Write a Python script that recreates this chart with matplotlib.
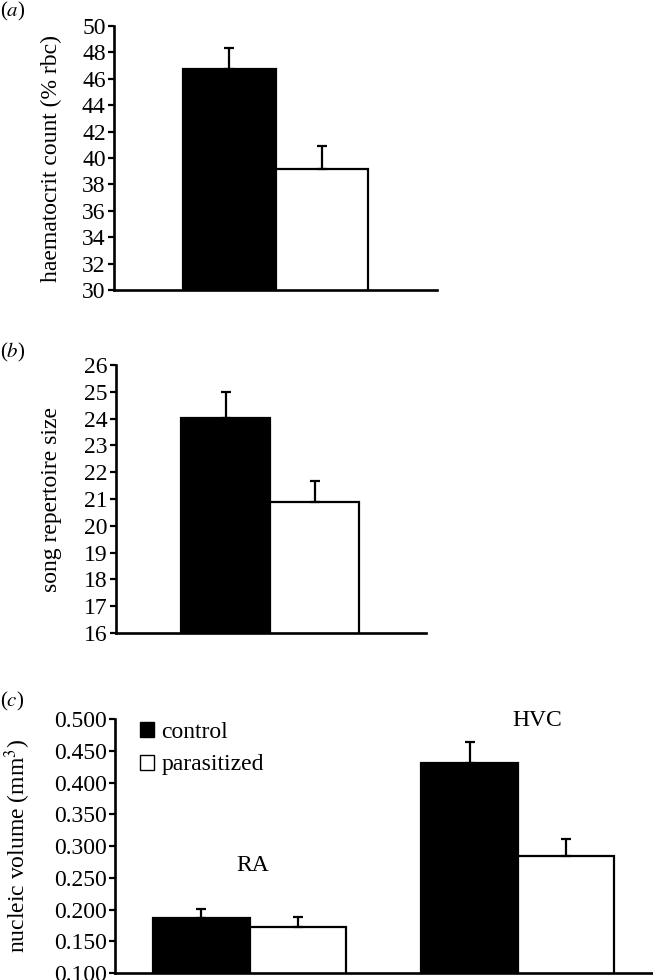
import matplotlib
matplotlib.use("Agg")
import matplotlib.pyplot as plt
from matplotlib.patches import Patch

plt.rcParams['font.family'] = ['Liberation Serif', 'DejaVu Serif']
plt.rcParams['mathtext.fontset'] = 'stix'

# Data
groups_a = ["control", "parasitized"]
haematocrit = [46.74, 39.17]
haematocrit_err = [1.59, 1.73]
a_ticks = [30, 32, 34, 36, 38, 40, 42, 44, 46, 48, 50]

repertoire = [24.02, 20.89]
repertoire_err = [0.97, 0.78]
b_ticks = [16, 17, 18, 19, 20, 21, 22, 23, 24, 25, 26]

regions = ["RA", "HVC"]
control_vol = [0.1866, 0.4307]
control_err = [0.0142, 0.0331]
parasit_vol = [0.1724, 0.2843]
parasit_err = [0.0156, 0.0267]
c_ticks = [0.100, 0.150, 0.200, 0.250, 0.300, 0.350, 0.400, 0.450, 0.500]

FS = 17
TFS = 17
LW = 1.6
fig = plt.figure(figsize=(6.53, 9.80), dpi=100)

def style(ax):
    for s in ['top', 'right']:
        ax.spines[s].set_visible(False)
    for s in ['left', 'bottom']:
        ax.spines[s].set_linewidth(1.9)
    ax.tick_params(axis='y', direction='out', length=4, width=1.6, labelsize=TFS, pad=2)
    ax.tick_params(axis='x', bottom=False, labelbottom=False)

def draw_bar(ax, x, v, e, c):
    ax.bar(x, v, width=1.0, color=c, edgecolor='black', linewidth=LW, zorder=2)
    ax.errorbar(x, v, yerr=[[0], [e]], fmt='none', ecolor='black',
                elinewidth=LW, capsize=3.8, capthick=LW, zorder=3)

# (a)
ax1 = fig.add_axes([114 / 653, 1 - 290 / 980, (437 - 114) / 653, (290 - 26) / 980])
draw_bar(ax1, 0, haematocrit[0], haematocrit_err[0], 'black')
draw_bar(ax1, 1, haematocrit[1], haematocrit_err[1], 'white')
ax1.set_ylim(30, 50)
ax1.set_xlim(-0.5 - (183 - 114) / 92.5, 1.5 + (437 - 368) / 92.5)
ax1.set_yticks(a_ticks)
ax1.set_ylabel('haematocrit count (% rbc)', fontsize=FS)
ax1.yaxis.set_label_coords((62 - 114) / 323, 0.5)
style(ax1)
fig.text(0.0, 1.0, '($\\mathit{a}$)', fontsize=15, va='top', ha='left')

# (b)
ax2 = fig.add_axes([116 / 653, 1 - 633 / 980, (426 - 116) / 653, (633 - 365) / 980])
draw_bar(ax2, 0, repertoire[0], repertoire_err[0], 'black')
draw_bar(ax2, 1, repertoire[1], repertoire_err[1], 'white')
ax2.set_ylim(16, 26)
ax2.set_xlim(-0.5 - (181 - 116) / 89, 1.5 + (426 - 359) / 89)
ax2.set_yticks(b_ticks)
ax2.set_ylabel('song repertoire size', fontsize=FS)
ax2.yaxis.set_label_coords((62 - 116) / 310, 0.5)
style(ax2)
fig.text(0.0, 1 - 341 / 980, '($\\mathit{b}$)', fontsize=15, va='top', ha='left')

# (c)
ax3 = fig.add_axes([115 / 653, 1 - 973 / 980, (653 - 115) / 653, (973 - 719) / 980])
gpos = [0.0, 2.78]
for i, g in enumerate(gpos):
    draw_bar(ax3, g, control_vol[i], control_err[i], 'black')
    draw_bar(ax3, g + 1, parasit_vol[i], parasit_err[i], 'white')
ax3.set_ylim(0.1, 0.5)
ax3.set_xlim(-0.894, 4.68)
ax3.set_yticks(c_ticks)
ax3.set_yticklabels([f'{t:.3f}' for t in c_ticks])
ax3.set_ylabel('nucleic volume (mm$^3$)', fontsize=FS)
ax3.yaxis.set_label_coords((33 - 115) / 538, 0.5)
style(ax3)
ax3.text(0.536, 0.270, regions[0], fontsize=FS, ha='center', va='center')
ax3.text(3.48, 0.497, regions[1], fontsize=FS, ha='center', va='center')
handles = [Patch(facecolor='black', edgecolor='black', linewidth=1),
           Patch(facecolor='white', edgecolor='black', linewidth=1)]
ax3.legend(handles, ['control', 'parasitized'], loc='upper left',
           bbox_to_anchor=((140 - 115) / 538, 0.99),
           frameon=False, fontsize=FS, handlelength=0.6, handleheight=0.6,
           handletextpad=0.3, labelspacing=0.5, borderaxespad=0, borderpad=0)
fig.text(0.0, 1 - 690 / 980, '($\\mathit{c}$)', fontsize=15, va='top', ha='left')

fig.savefig('out.png', dpi=100)
